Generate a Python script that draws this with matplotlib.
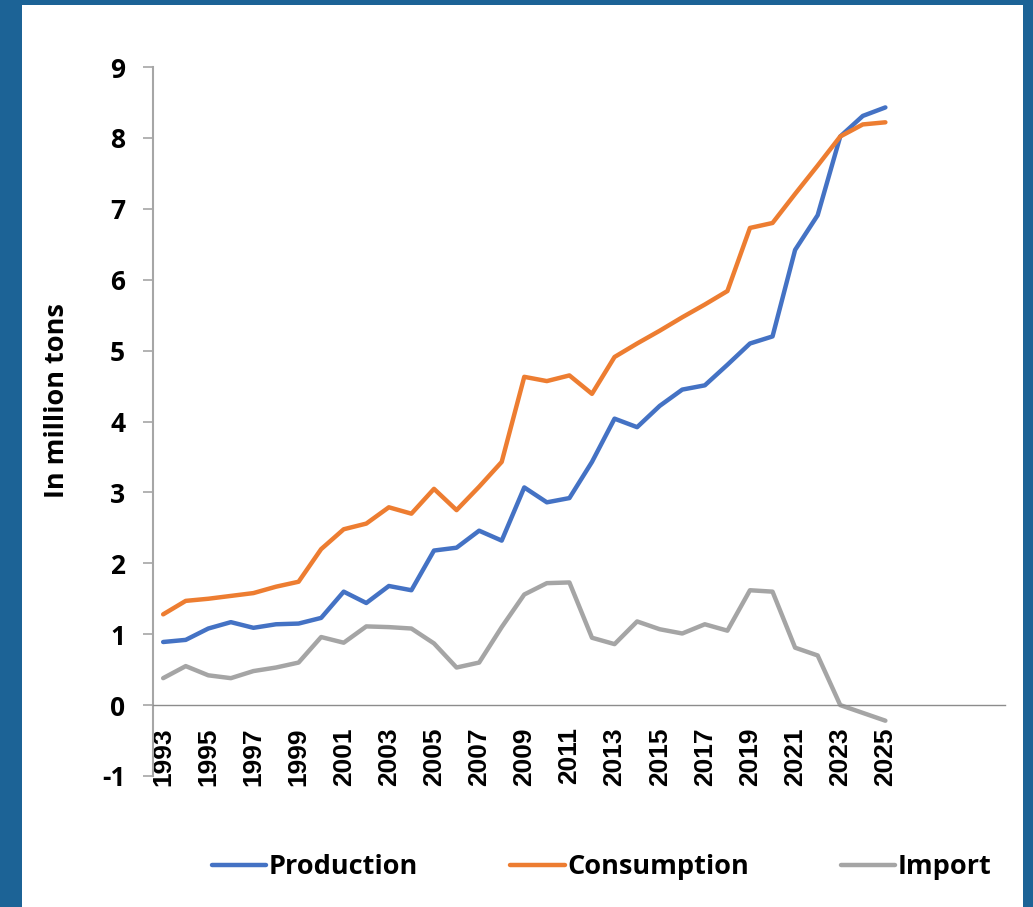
import matplotlib
matplotlib.use("Agg")
import matplotlib.pyplot as plt
from matplotlib.patches import Rectangle

years = list(range(1993, 2026))

production = [0.89, 0.92, 1.08, 1.17, 1.09, 1.14, 1.15, 1.23, 1.60, 1.44, 1.68,
              1.62, 2.18, 2.22, 2.46, 2.32, 3.07, 2.86, 2.92, 3.43, 4.04, 3.92,
              4.22, 4.45, 4.51, 4.80, 5.10, 5.20, 6.42, 6.91, 8.02, 8.31, 8.43]

consumption = [1.28, 1.47, 1.50, 1.54, 1.58, 1.67, 1.74, 2.20, 2.48, 2.56, 2.79,
               2.70, 3.05, 2.75, 3.08, 3.43, 4.63, 4.57, 4.65, 4.39, 4.91, 5.10,
               5.28, 5.47, 5.65, 5.84, 6.73, 6.80, 7.21, 7.61, 8.02, 8.19, 8.22]

imports = [0.38, 0.55, 0.42, 0.38, 0.48, 0.53, 0.60, 0.96, 0.88, 1.11, 1.10,
           1.08, 0.87, 0.53, 0.60, 1.10, 1.56, 1.72, 1.73, 0.95, 0.86, 1.18,
           1.07, 1.01, 1.14, 1.05, 1.62, 1.60, 0.81, 0.70, 0.00, -0.11, -0.22]

series_names = ["Production", "Consumption", "Import"]
series_colors = ["#4472C4", "#ED7D31", "#A5A5A5"]
label_years = years[::2]
y_ticks = list(range(-1, 10))

fig = plt.figure(figsize=(10.33, 9.07), dpi=100)
fig.patch.set_facecolor("#1C6396")
fig.patches.append(Rectangle((22 / 1033, 0), 1001 / 1033, 902 / 907,
                             transform=fig.transFigure, facecolor="white",
                             edgecolor="none", zorder=-10))

ax = fig.add_axes([153 / 1033, 1 - 776 / 907, 852 / 1033, 709 / 907])
ax.set_zorder(1)
ax.set_facecolor("none")

for vals, name, col in zip([production, consumption, imports], series_names, series_colors):
    ax.plot(years, vals, color=col, lw=3.2, label=name, solid_capstyle="round")

ax.set_xlim(1992.55, 2030.3)
ax.set_ylim(-1, 9)

ax.spines["top"].set_visible(False)
ax.spines["right"].set_visible(False)
ax.spines["left"].set_color("#A6A6A6")
ax.spines["left"].set_linewidth(1.5)
ax.spines["bottom"].set_position(("data", 0))
ax.spines["bottom"].set_color("#8C8C8C")
ax.spines["bottom"].set_linewidth(1.0)

ax.set_yticks(y_ticks)
ax.set_yticklabels([str(v) for v in y_ticks], fontfamily="Open Sans",
                   fontweight="bold", fontsize=19)
ax.tick_params(axis="y", direction="out", length=7, width=1.2,
               color="#A6A6A6", pad=13)

ax.set_xticks(label_years)
ax.set_xticklabels([str(y) for y in label_years], rotation=90,
                   fontfamily="Liberation Sans", fontweight="bold", fontsize=19,
                   va="top")
ax.tick_params(axis="x", length=0, pad=16)

ax.set_ylabel("In million tons", fontfamily="Open Sans", fontweight="bold",
              fontsize=19.5)
ax.yaxis.set_label_coords(-0.098, 0.529)

fig.legend(loc="center", bbox_to_anchor=(602 / 1033, 1 - 867 / 907), ncol=3,
           frameon=False, handlelength=2.0, handletextpad=0.1,
           columnspacing=3.4,
           prop={"family": "Open Sans", "weight": "bold", "size": 19.5})

fig.savefig("out.png", dpi=100, facecolor=fig.get_facecolor())
